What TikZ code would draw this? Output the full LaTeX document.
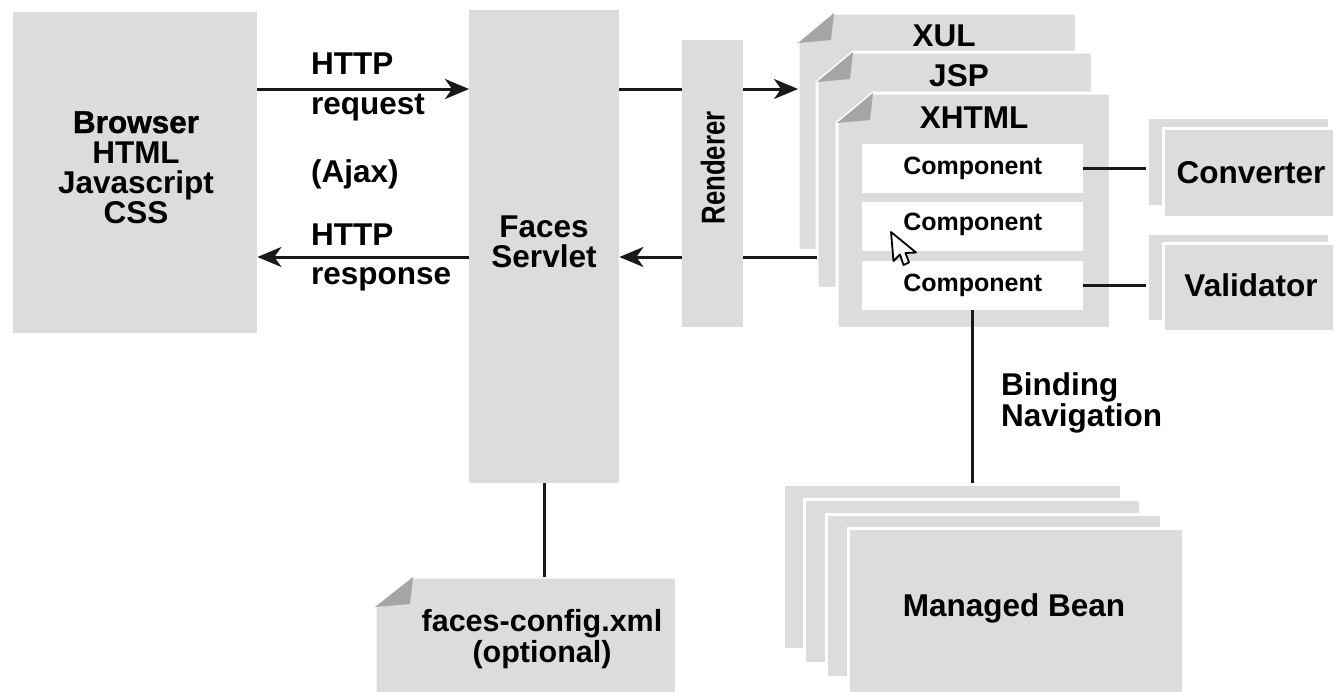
\documentclass[tikz,border=0pt]{standalone}
\usepackage{fontspec}
\setmainfont{Liberation Sans}
\newfontfamily\heavyfont[FakeBold=1.2]{Liberation Sans Bold}
\usetikzlibrary{arrows.meta}

\definecolor{boxgray}{RGB}{220,220,220}
\definecolor{foldgray}{RGB}{165,165,165}
\definecolor{ink}{RGB}{25,25,25}

% folded-corner document sheet drawn over a frame node
\newcommand\foldedsheet[3]{%
  \filldraw[sheet] ([yshift=-#3]#1.north west) -- ([xshift=#2]#1.north west)
     -- (#1.north east) -- (#1.south east) -- (#1.south west) -- cycle;
  \fill[foldgray] ([yshift=-#3]#1.north west) -- ([xshift=#2]#1.north west)
     -- ([xshift=#2-3,yshift=-#3+3]#1.north west) -- cycle;}

\begin{document}
\begin{tikzpicture}[x=1pt,y=-1pt,
  graybox/.style={fill=boxgray, draw=none, inner sep=0, anchor=north west},
  stackbox/.style={fill=boxgray, draw=white, line width=3, inner sep=0, anchor=north west},
  frame/.style={inner sep=0, anchor=north west},
  sheet/.style={fill=boxgray, draw=white, line width=3},
  compbox/.style={fill=white, draw=none, inner sep=0, anchor=north west,
                  minimum width=221, minimum height=49},
  lbl/.style={font=\fontsize{31.5}{31.5}\selectfont\bfseries, inner sep=0, anchor=base},
  lbll/.style={lbl, anchor=base west},
  complbl/.style={font=\fontsize{25}{25}\selectfont\bfseries, inner sep=0},
  conn/.style={draw=ink, line width=3},
  arr/.style={conn, -{Stealth[length=24pt,width=20pt,inset=7pt]}}]
\useasboundingbox (0,0) rectangle (1333,691);

% main blocks
\node[graybox, minimum width=244, minimum height=321] (browser) at (13,12) {};
\node[graybox, minimum width=150, minimum height=473] (faces) at (469,10) {};
\node[graybox, minimum width=61, minimum height=287] (renderer) at (682,40) {};

% view documents
\node[frame, minimum width=278, minimum height=237] (xul) at (798,13) {};
\node[frame, minimum width=275, minimum height=236] (jsp) at (817,52) {};
\node[frame, minimum width=273, minimum height=235] (xhtml) at (837,93) {};
\foldedsheet{xul}{36}{30}
\foldedsheet{jsp}{36}{30}
\foldedsheet{xhtml}{36}{30}

\node[compbox] (comp1) at (862,144) {};
\node[compbox] (comp2) at (862,202) {};
\node[compbox] (comp3) at (862,261) {};

% converter and validator
\node[stackbox, minimum width=182, minimum height=89] (convback) at (1146,116) {};
\node[stackbox, minimum width=180, minimum height=89] (conv) at (1162,127) {};
\node[stackbox, minimum width=182, minimum height=88] (valback) at (1146,232) {};
\node[stackbox, minimum width=180, minimum height=88] (val) at (1162,242) {};

% managed beans
\node[stackbox, minimum width=338, minimum height=165] (bean1) at (782,483) {};
\node[stackbox, minimum width=336, minimum height=164] (bean2) at (803,498) {};
\node[stackbox, minimum width=335, minimum height=163] (bean3) at (825,513) {};
\node[stackbox, minimum width=335, minimum height=180] (bean4) at (847,527) {};

% configuration file
\node[frame, minimum width=301, minimum height=130] (cfg) at (375,577) {};
\foldedsheet{cfg}{38}{30}

% connectors
\coordinate (rq) at (0,89);
\coordinate (rs) at (0,257);
\draw[arr] (browser.east |- rq) -- (faces.west |- rq);
\draw[conn] (faces.east |- rq) -- (renderer.west |- rq);
\draw[arr] (renderer.east |- rq) -- (xul.west |- rq);
\draw[conn] (jsp.west |- rs) -- (renderer.east |- rs);
\draw[arr] (renderer.west |- rs) -- (faces.east |- rs);
\draw[arr] (faces.west |- rs) -- (browser.east |- rs);
\draw[conn] (comp1.east) -- (convback.west |- comp1.east);
\draw[conn] (comp3.east) -- (valback.west |- comp3.east);
\draw[conn] (comp3.south) -- (bean1.north -| comp3.south);
\draw[conn] (faces.south) -- (cfg.north -| faces.south);

% labels
\node[lbl] (tb1) at (136,133) {\heavyfont Browser};
\node[lbl] (tb2) at (136,163) {HTML};
\node[lbl] (tb3) at (136,193) {Javascript};
\node[lbl] (tb4) at (136,223) {CSS};

\node[lbll] (tq1) at (311,74) {HTTP};
\node[lbll] (tq2) at (311,114) {request};
\node[lbll] (tq3) at (311,182) {(Ajax)};
\node[lbll] (tq4) at (311,245) {HTTP};
\node[lbll] (tq5) at (311,284) {response};

\node[lbl] (tf1) at (544,237) {Faces};
\node[lbl] (tf2) at (544,267) {Servlet};

\node[font=\fontsize{33}{33}\selectfont\bfseries, inner sep=0, rotate=90, xscale=0.78]
  (trend) at (renderer.center |- 0,168) {Renderer};

\node[lbl] (txul) at (944,46) {XUL};
\node[lbl] (tjsp) at (959,86) {JSP};
\node[lbl] (txhtml) at (974,128) {XHTML};

\node[complbl] (tc1) at (comp1.center) {Component};
\node[complbl] (tc2) at ([yshift=2]comp2.center) {Component};
\node[complbl] (tc3) at (comp3.center) {Component};

\node[lbl] (tconv) at (1251,183) {Converter};
\node[lbl] (tval) at (1251,296) {Validator};

\node[lbll] (tbind1) at (1001,395) {Binding};
\node[lbll] (tbind2) at (1001,426) {Navigation};

\node[lbl] (tbean) at (1014,616) {Managed Bean};

\node[lbl, font=\fontsize{30.5}{30.5}\selectfont\bfseries] (tcfg1) at (542,631) {faces-config.xml};
\node[lbl, font=\fontsize{30.5}{30.5}\selectfont\bfseries] (tcfg2) at (542,662) {(optional)};

% mouse pointer
\filldraw[fill=white, draw=black, line width=1.8, line join=round]
  (891,232) -- (893.5,261) -- (900,254.5) -- (903.5,265) -- (909,262.5)
  -- (905.5,253) -- (916,252.5) -- cycle;
\end{tikzpicture}
\end{document}
